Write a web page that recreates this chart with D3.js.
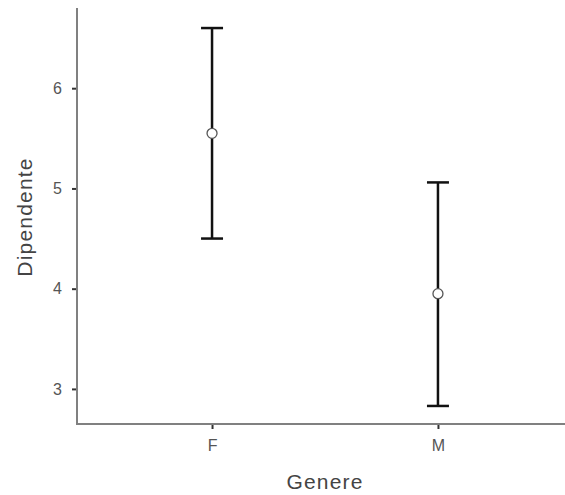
<!DOCTYPE html>
<html>
<head>
<meta charset="utf-8">
<script src="https://cdn.jsdelivr.net/npm/d3@7"></script>
<style>
  body { margin: 0; background: #fff; }
  svg { display: block; font-family: "Liberation Sans", Arial, sans-serif; }
</style>
</head>
<body>
<svg id="chart" width="565" height="495"></svg>
<script>
// values
const categories = ['F', 'M'];
const means = [5.55, 3.95];
const lower = [4.50, 2.83];
const upper = [6.60, 5.06];
const yTicks = [3, 4, 5, 6];

const plotL = 77, plotR = 565, plotT = 8, plotB = 424;

const svg = d3.select('#chart');

const x = d3.scalePoint()
    .domain(categories)
    .range([81, 569])
    .padding(0.58);

const y = d3.scaleLinear()
    .domain([2.65, 6.8])
    .range([plotB, plotT]);

// axes
const gy = svg.append('g')
    .attr('transform', `translate(${plotL},0)`)
    .call(d3.axisLeft(y).tickValues(yTicks).tickFormat(d3.format('d')).tickSize(5).tickPadding(10));
gy.select('.domain').remove();

const gx = svg.append('g')
    .attr('transform', `translate(0,${plotB})`)
    .call(d3.axisBottom(x).tickSize(5).tickPadding(11));
gx.select('.domain').remove();

svg.selectAll('.tick line').attr('stroke', '#333').attr('stroke-width', 2);
svg.selectAll('.tick text')
    .attr('fill', '#555')
    .attr('font-size', 16)
    .attr('font-family', '"Liberation Sans", Arial, sans-serif');

// axis lines
svg.append('line')
    .attr('x1', plotL).attr('x2', plotL)
    .attr('y1', plotT).attr('y2', plotB + 1)
    .attr('stroke', '#808080').attr('stroke-width', 2);
svg.append('line')
    .attr('x1', plotL - 1).attr('x2', plotR)
    .attr('y1', plotB).attr('y2', plotB)
    .attr('stroke', '#808080').attr('stroke-width', 2);

// error bars
const data = categories.map((c, i) => ({ c, m: means[i], lo: lower[i], hi: upper[i] }));
const capW = 11;

const bars = svg.append('g').selectAll('g')
    .data(data)
  .enter().append('g');

bars.append('line')
    .attr('x1', d => x(d.c)).attr('x2', d => x(d.c))
    .attr('y1', d => y(d.hi)).attr('y2', d => y(d.lo))
    .attr('stroke', '#111').attr('stroke-width', 2.5);
bars.append('line')
    .attr('x1', d => x(d.c) - capW).attr('x2', d => x(d.c) + capW)
    .attr('y1', d => y(d.hi)).attr('y2', d => y(d.hi))
    .attr('stroke', '#111').attr('stroke-width', 2.5);
bars.append('line')
    .attr('x1', d => x(d.c) - capW).attr('x2', d => x(d.c) + capW)
    .attr('y1', d => y(d.lo)).attr('y2', d => y(d.lo))
    .attr('stroke', '#111').attr('stroke-width', 2.5);
bars.append('circle')
    .attr('cx', d => x(d.c)).attr('cy', d => y(d.m))
    .attr('r', 5)
    .attr('fill', '#fff')
    .attr('stroke', '#555').attr('stroke-width', 1.3);

// axis titles (reference text is a bit loosely spaced)
svg.append('text')
    .attr('x', 325).attr('y', 489)
    .attr('text-anchor', 'middle')
    .attr('font-size', 21)
    .attr('letter-spacing', 1.2)
    .attr('fill', '#444')
    .text('Genere');

svg.append('text')
    .attr('transform', 'translate(32,217) rotate(-90)')
    .attr('text-anchor', 'middle')
    .attr('font-size', 21)
    .attr('letter-spacing', 1.2)
    .attr('fill', '#444')
    .text('Dipendente');
</script>
</body>
</html>
